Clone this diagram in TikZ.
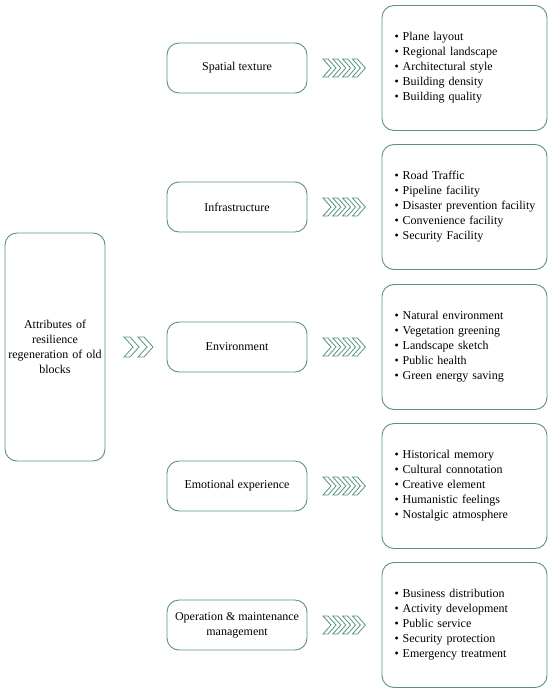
\documentclass[tikz,border=0pt]{standalone}
\usepackage{fontspec}
\setmainfont{Liberation Serif}
\usepackage{tikz}
\usetikzlibrary{calc}

\definecolor{frame}{RGB}{88,146,130}

\tikzset{
  box/.style={draw=frame, line width=0.9pt, rounded corners=12pt, align=center,
    font=\fontsize{12}{15}\selectfont},
  attr/.style={box, minimum width=140pt, minimum height=50pt},
  items/.style={box, align=left, text width=140pt, inner xsep=12.5pt,
    minimum width=165pt, minimum height=125pt},
  chev/.style={draw=frame, line width=0.8pt, line join=miter}
}

% n chevrons starting at (x,y), width, height, step
\newcommand{\chevrons}[6]{%
  \foreach \k in {1,...,#1}{
    \draw[chev] ($(#2,#3)+(\k*#6-#6,-#5/2)$) -- ++(#4-0.5*#5+1,0) -- ++(0.5*#5-1,#5/2)
      -- ++(-0.5*#5+1,#5/2) -- ++(-#4+0.5*#5-1,0) -- ++(0.5*#5-1,-#5/2) -- cycle;
  }%
}

\begin{document}
\begin{tikzpicture}[x=1pt,y=-1pt]
      \useasboundingbox (0,0) rectangle (550,693);

      \node[box, minimum width=100pt, minimum height=228pt, text width=94pt, inner xsep=3pt] (A) at (55,347)
        {Attributes of\\resilience\\regeneration of old\\blocks};

      \node[attr] (S) at (237,68)  {Spatial texture};
      \node[attr] (I) at (237,207) {Infrastructure};
      \node[attr] (E) at (237,347) {Environment};
      \node[attr] (M) at (237,486) {Emotional experience};
      \node[attr] (O) at (237,625) {Operation \& maintenance\\management};

      \node[items] (SL) at (464.5,68)  {\textbullet\ Plane layout\\\textbullet\ Regional landscape\\\textbullet\ Architectural style\\\textbullet\ Building density\\\textbullet\ Building quality};
      \node[items] (IL) at (464.5,207) {\textbullet\ Road Traffic\\\textbullet\ Pipeline facility\\\mbox{\textbullet\ Disaster prevention facility}\\\textbullet\ Convenience facility\\\textbullet\ Security Facility};
      \node[items] (EL) at (464.5,347) {\textbullet\ Natural environment\\\textbullet\ Vegetation greening\\\textbullet\ Landscape sketch\\\textbullet\ Public health\\\textbullet\ Green energy saving};
      \node[items] (ML) at (464.5,486) {\textbullet\ Historical memory\\\textbullet\ Cultural connotation\\\textbullet\ Creative element\\\textbullet\ Humanistic feelings\\\textbullet\ Nostalgic atmosphere};
      \node[items] (OL) at (464.5,625) {\textbullet\ Business distribution\\\textbullet\ Activity development\\\textbullet\ Public service\\\textbullet\ Security protection\\\textbullet\ Emergency treatment};

      % chevrons between the columns
      \chevrons{2}{124}{347}{15}{20}{14}
      \foreach \y in {68,207,347,486,625}{
        \chevrons{4}{323}{\y}{13}{18}{9.8}
      }
    \end{tikzpicture}
\end{document}
